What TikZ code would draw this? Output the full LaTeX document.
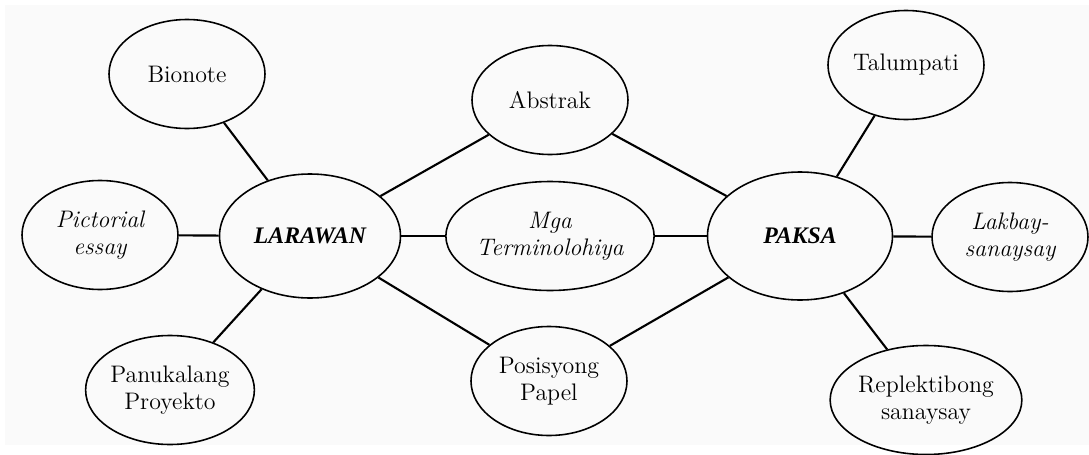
\documentclass[tikz,border=0pt]{standalone}
\usepackage{fontspec}
\newfontfamily\hubfont{Liberation Serif}
\usetikzlibrary{shapes.geometric}

\tikzstyle{topic}=[ellipse, draw, line width=0.9, minimum width=3.12cm, minimum height=2.18cm, inner sep=0, align=center, font=\fontsize{13.6}{15.5}\selectfont]
\tikzstyle{hub}=[topic, minimum width=3.62cm, minimum height=2.48cm, font=\hubfont\fontsize{13.5}{15}\selectfont\bfseries\itshape]
\tikzstyle{link}=[line width=1.2]
\tikzstyle{thinlink}=[line width=0.7]

\begin{document}
\begin{tikzpicture}
  \useasboundingbox (0,0) rectangle (21.78,9.08);
  \fill[black!2] (0.1,0.18) rectangle (21.78,8.98);
  % two hubs
  \node[hub] (LAR) at (6.20,4.36) {LARAWAN};
  \node[hub, minimum width=3.7cm, minimum height=2.56cm] (PAK) at (16.00,4.36) {PAKSA};
  % left side
  \node[topic] (BIO) at (3.74,7.60) {Bionote};
  \node[topic] (PIC) at (2.00,4.38) {\itshape Pictorial\\\itshape essay};
  \node[topic] (PAN) at (3.40,1.28) {Panukalang\\Proyekto};
  % middle
  \node[topic] (ABS) at (11.00,7.08) {Abstrak};
  \node[topic] (MGA) at (11.00,4.36) {\itshape Mga\\\itshape Terminolohiya};
  \node[topic] (POS) at (10.98,1.46) {Posisyong\\Papel};
  % right side
  \node[topic] (TAL) at (18.12,7.78) {Talumpati};
  \node[topic] (LAK) at (20.20,4.34) {\itshape Lakbay-\\\itshape sanaysay};
  \node[topic] (REP) at (18.52,1.08) {Replektibong\\sanaysay};
  % connectors
  \draw[link] (LAR) -- (BIO);
  \draw[link] (LAR) -- (PIC);
  \draw[link] (LAR) -- (PAN);
  \draw[link] (LAR) -- (ABS);
  \draw[link] (LAR) -- (MGA);
  \draw[link] (LAR) -- (POS);
  \draw[link] (PAK) -- (ABS);
  \draw[thinlink] (PAK) -- (MGA);
  \draw[link] (PAK) -- (POS);
  \draw[link] (PAK) -- (TAL);
  \draw[link] (PAK) -- (LAK);
  \draw[link] (PAK) -- (REP);
\end{tikzpicture}
\end{document}
